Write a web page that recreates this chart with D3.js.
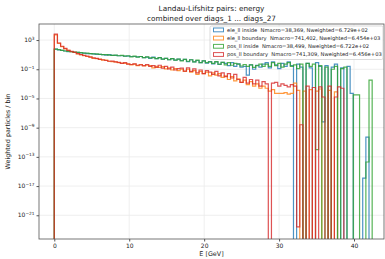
<!DOCTYPE html>
<html>
<head>
<meta charset="utf-8">
<script src="https://cdn.jsdelivr.net/npm/d3@7"></script>
<style>
  body { margin: 0; background: #fff; }
  svg { font-family: "DejaVu Sans", sans-serif; }
</style>
</head>
<body>
<div id="chart"></div>
<script>
// histogram bins: 100 bins of 0.42 GeV from 0 to 42
const binStart = 0, binWidth = 0.42, nBins = 100;

// log10(weighted particles / bin), null = empty bin
const eleInside = [
  1.75, 1.65, 1.6, 1.5, 1.4, 1.4, 1.3, 1.3, 1.25, 1.2,
  1.15, 1.15, 1.1, 1.05, 1.05, 1.0, 0.95, 1.0, 0.9, 0.9,
  0.85, 0.85, 0.8, 0.8, 0.75, 0.75, 0.7, 0.75, 0.6, 0.65,
  0.5, 0.65, 0.45, 0.6, 0.4, 0.5, 0.3, 0.45, 0.25, 0.4,
  0.2, 0.35, 0.05, 0.3, 0.0, 0.2, -0.1, 0.15, -0.15, 0.05,
  -0.25, 0.0, -0.35, -0.05, -0.2, -0.5, -0.1, -0.6, -0.25, -0.7,
  -0.6, -1.8, -0.4, -1.0, -0.45, -0.7, -0.3,
  -0.1, -0.8, 0.0, -0.4, -0.9, -0.2, -0.6, 0.0, -0.5, null,
  -0.3, -0.7, null, -0.2, -0.8, null, -0.1, -0.6, -8.2, -0.5,
  null, -0.7, -0.3, null, -0.8, null, -0.6, -4.3, null, null,
  null, -15.9, -10.3, null
];
const eleBoundary = [
  3.7, 2.55, 2.1, 1.8, 1.6, 1.4, 1.3, 1.1, 1.0, 0.85,
  0.75, 0.7, 0.5, 0.45, 0.4, 0.25, 0.25, 0.1, 0.05, 0.0,
  -0.1, -0.15, -0.2, -0.25, -0.4, -0.3, -0.5, -0.35, -0.55, -0.45,
  -0.5, -0.8, -0.6, -0.75, -0.65, -0.95, -0.8, -1.1, -0.9, -1.2,
  -1.0, -1.3, -1.0, -1.4, -1.2, -1.7, -1.3, -1.6, -1.4, -1.9,
  -1.5, -1.8, -1.6, -2.1, -1.9, -2.4, -2.0, -2.6, -2.3, -2.8,
  -2.5, -3.1, -2.7, -3.3, -3.0, -3.6, -3.3,
  -3.6, -4.0, -3.8, -4.3, -4.3, -4.3, -4.2, -4.4, -4.3, -2.9,
  -3.9, null, -4.0, null, -3.8, null, -4.0, -3.7, null, null,
  -3.9, null, -4.1, null, null, null, null, null, null, null,
  null, null, null, null
];
const posInside = [
  1.77, 1.7, 1.6, 1.5, 1.45, 1.4, 1.35, 1.3, 1.28, 1.2,
  1.2, 1.15, 1.1, 1.1, 1.05, 1.0, 1.0, 0.95, 0.9, 0.95,
  0.85, 0.9, 0.8, 0.85, 0.7, 0.8, 0.65, 0.75, 0.6, 0.7,
  0.55, 0.6, 0.45, 0.6, 0.4, 0.5, 0.3, 0.45, 0.25, 0.4,
  0.15, 0.35, 0.1, 0.3, 0.0, 0.25, -0.1, 0.15, -0.1, 0.0,
  -0.2, 0.05, -0.3, -0.05, -0.4, -0.1, -0.45, -0.2, -0.3, -0.55,
  -0.35, -0.6, -0.4, -0.75, -0.5, -0.3, -0.6,
  -0.3, -0.6, -0.1, -0.5, -0.2, -0.7, -0.3, -0.1, -0.6, -0.4,
  -0.9, -0.3, null, -0.2, -0.6, -0.3, -12.0, -0.5, null, -0.7,
  null, -1.0, -0.6, null, -0.9, -0.7, null, null, -4.5, -4.5,
  null, null, -13.7, -2.5
];
const posBoundary = [
  3.8, 2.6, 2.15, 1.85, 1.6, 1.45, 1.3, 1.15, 1.0, 0.9,
  0.8, 0.65, 0.55, 0.5, 0.35, 0.3, 0.2, 0.1, 0.12, 0.0,
  -0.05, -0.2, -0.1, -0.3, -0.35, -0.25, -0.45, -0.4, -0.5, -0.35,
  -0.6, -0.5, -0.75, -0.45, -0.85, -0.6, -0.95, -0.7, -1.1, -0.9,
  -0.85, -1.25, -0.8, -1.3, -0.95, -1.5, -1.1, -1.6, -1.2, -1.4,
  -1.7, -1.3, -1.9, -1.5, -2.0, -1.6, -2.2, -1.7, -2.4, -2.8,
  -2.1, -2.9, -2.4, -3.0, -2.5, -3.3, -2.7,
  -3.0, null, -2.9, -2.8, -3.3, -3.0, -3.2, -3.4, -3.1, -3.3,
  -22.6, -8.6, null, -3.3, null, -3.5, null, -3.4, -4.8, null,
  -3.3, null, -4.8, -3.4, -3.6, null, null, null, null, null,
  null, null, null, null
];

const seriesNames = [
  'ele_ll inside\u00a0\u00a0Nmacro=38,369, Nweighted=6.729e+02',
  'ele_ll boundary\u00a0\u00a0Nmacro=741,402, Nweighted=6.454e+03',
  'pos_ll inside\u00a0\u00a0Nmacro=38,499, Nweighted=6.722e+02',
  'pos_ll boundary\u00a0\u00a0Nmacro=741,309, Nweighted=6.456e+03'
];
const seriesValues = [eleInside, eleBoundary, posInside, posBoundary];
const colors = ['#1f77b4', '#ff7f0e', '#2ca02c', '#d62728'];

const xTicks = [0, 10, 20, 30, 40];
const yTickExps = [3, -1, -5, -9, -13, -17, -21];

const W = 385, H = 259;
const mLeft = 39, mRight = 384, mTop = 24, mBottom = 239;

const svg = d3.select('#chart').append('svg')
  .attr('width', W).attr('height', H);

const x = d3.scaleLinear().domain([-2.04, 44.0]).range([mLeft, mRight]);
const y = d3.scaleLog().domain([Math.pow(10, -24.25), Math.pow(10, 5.2)]).range([mBottom, mTop]);

svg.append('defs').append('clipPath').attr('id', 'clip')
  .append('rect').attr('x', mLeft).attr('y', mTop)
  .attr('width', mRight - mLeft).attr('height', mBottom - mTop);

// grid
const grid = svg.append('g').attr('stroke', '#ebebeb').attr('stroke-width', 0.8);
xTicks.forEach(function(t) {
  grid.append('line').attr('x1', x(t)).attr('x2', x(t)).attr('y1', mTop).attr('y2', mBottom);
});
yTickExps.forEach(function(e) {
  grid.append('line').attr('x1', mLeft).attr('x2', mRight)
    .attr('y1', y(Math.pow(10, e))).attr('y2', y(Math.pow(10, e)));
});

// histograms as steps
const plot = svg.append('g').attr('clip-path', 'url(#clip)');
seriesValues.forEach(function(vals, k) {
  const yb = mBottom + 5;
  let pts = [[x(binStart), yb]];
  vals.forEach(function(v, i) {
    const yy = v === null ? yb : y(Math.pow(10, v));
    pts.push([x(binStart + i * binWidth), yy]);
    pts.push([x(binStart + (i + 1) * binWidth), yy]);
  });
  pts.push([x(binStart + vals.length * binWidth), yb]);
  plot.append('path')
    .attr('d', d3.line()(pts))
    .attr('fill', 'none')
    .attr('stroke', colors[k])
    .attr('stroke-opacity', 0.8)
    .attr('stroke-width', 1.2);
});

// frame
svg.append('rect').attr('x', mLeft).attr('y', mTop)
  .attr('width', mRight - mLeft).attr('height', mBottom - mTop)
  .attr('fill', 'none').attr('stroke', '#555').attr('stroke-width', 0.8);

// x axis
const xAxis = svg.append('g')
  .attr('transform', 'translate(0,' + mBottom + ')')
  .call(d3.axisBottom(x).tickValues(xTicks).tickSize(2.5).tickPadding(2));
xAxis.select('.domain').remove();
xAxis.selectAll('line').attr('stroke', '#555');
xAxis.selectAll('text').attr('font-size', 6).attr('fill', '#222')
  .attr('font-family', '"DejaVu Sans", sans-serif');

// y axis
const yAxis = svg.append('g')
  .attr('transform', 'translate(' + mLeft + ',0)')
  .call(d3.axisLeft(y).tickValues(yTickExps.map(function(e) { return Math.pow(10, e); }))
    .tickSize(2.5).tickPadding(2).tickFormat(''));
yAxis.select('.domain').remove();
yAxis.selectAll('line').attr('stroke', '#555');
yTickExps.forEach(function(e) {
  const t = svg.append('text')
    .attr('x', mLeft - 4.5).attr('y', y(Math.pow(10, e)) + 2)
    .attr('text-anchor', 'end').attr('font-size', 6).attr('fill', '#222');
  t.append('tspan').text('10');
  t.append('tspan').attr('dy', -2.5).attr('font-size', 4.3)
    .text(e < 0 ? '\u2212' + (-e) : String(e));
});

// labels
svg.append('text').attr('x', (mLeft + mRight) / 2).attr('y', 256)
  .attr('text-anchor', 'middle').attr('font-size', 6.4).attr('fill', '#222')
  .text('E [GeV]');
svg.append('text')
  .attr('transform', 'translate(10,' + ((mTop + mBottom) / 2) + ') rotate(-90)')
  .attr('text-anchor', 'middle').attr('font-size', 6.4).attr('fill', '#222')
  .text('Weighted particles / bin');
svg.append('text').attr('x', (mLeft + mRight) / 2).attr('y', 11)
  .attr('text-anchor', 'middle').attr('font-size', 7.3).attr('fill', '#222')
  .text('Landau-Lifshitz pairs: energy');
svg.append('text').attr('x', (mLeft + mRight) / 2).attr('y', 20.5)
  .attr('text-anchor', 'middle').attr('font-size', 7.3).attr('fill', '#222')
  .text('combined over diags_1 ... diags_27');

// legend
const lg = svg.append('g').attr('transform', 'translate(210,26)');
lg.append('rect').attr('x', 0).attr('y', 0).attr('width', 173).attr('height', 33.5)
  .attr('rx', 1.5).attr('fill', '#fff').attr('fill-opacity', 0.85)
  .attr('stroke', '#ccc').attr('stroke-width', 0.7);
seriesNames.forEach(function(name, i) {
  const cy = 4 + i * 8.2;
  lg.append('rect').attr('x', 3.5).attr('y', cy - 2).attr('width', 10).attr('height', 3.8)
    .attr('fill', 'none').attr('stroke', colors[i]).attr('stroke-opacity', 0.8).attr('stroke-width', 1);
  lg.append('text').attr('x', 17).attr('y', cy + 1.8)
    .attr('font-size', 5.2).attr('fill', '#222').text(name);
});
</script>
</body>
</html>
